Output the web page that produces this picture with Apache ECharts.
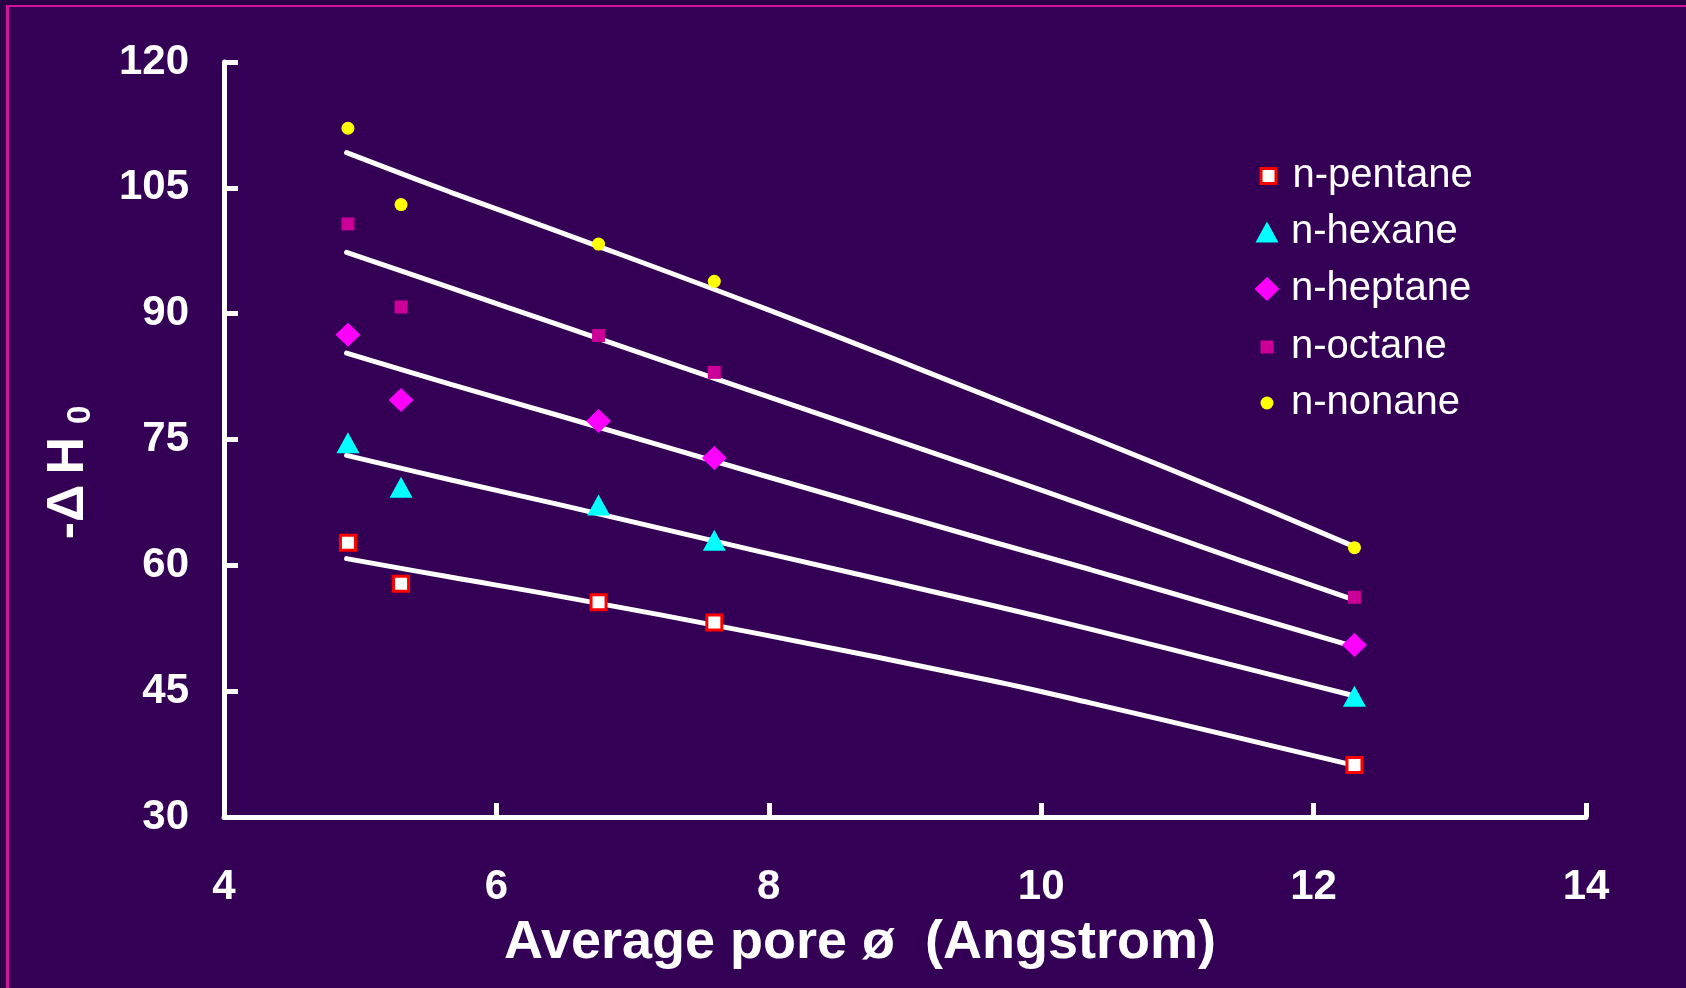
<!DOCTYPE html>
<html>
<head>
<meta charset="utf-8">
<script src="https://cdn.jsdelivr.net/npm/echarts@6/dist/echarts.min.js"></script>
<style>
  html, body { margin: 0; padding: 0; background: #330055; }
  #chart { width: 1686px; height: 988px; }
</style>
</head>
<body>
<div id="chart"></div>
<script>
// Measured adsorption enthalpies (-ΔH0) against average pore diameter
const poreSize = [4.91, 5.3, 6.75, 7.6, 12.3];
const pentane = [62.7, 57.8, 55.6, 53.2, 36.2];
const hexane  = [74.6, 69.3, 67.2, 63.0, 44.4];
const heptane = [87.5, 79.7, 77.2, 72.8, 50.5];
const octane  = [100.7, 90.8, 87.4, 83.0, 56.2];
const nonane  = [112.1, 103.0, 98.3, 93.85, 62.1];

// Trend curves drawn through each alkane series
const fitX        = [4.9, 5.66, 6.47, 7.94, 9.62, 10.36, 11.46, 12.26];
const pentaneFit  = [60.8, 58.6, 56.3, 51.8, 46.3, 43.6, 39.4, 36.3];
const hexaneFit   = [73.1, 70.2, 67.2, 61.6, 55.3, 52.4, 47.9, 44.6];
const heptaneFit  = [85.3, 81.6, 77.8, 70.8, 62.9, 59.5, 54.3, 50.5];
const octaneFit   = [97.3, 93.1, 88.6, 80.4, 71.1, 66.9, 60.6, 56.1];
const nonaneFit   = [109.2, 104.5, 99.7, 90.8, 80.1, 75.3, 68.0, 62.5];

const seriesNames = ['n-pentane', 'n-hexane', 'n-heptane', 'n-octane', 'n-nonane'];
const xTicks = { min: 4, max: 14, step: 2 };
const yTicks = { min: 30, max: 120, step: 15 };

const FONT = '"Liberation Sans", Arial, Helvetica, sans-serif';
const WHITE = '#ffffff';

const markerStyles = {
  'n-pentane': { symbol: 'rect', size: [15, 15], itemStyle: { color: '#ffffff', borderColor: '#ff0000', borderWidth: 3, opacity: 1 } },
  'n-hexane':  { symbol: 'triangle', size: [23, 21], itemStyle: { color: '#00ffff', opacity: 1 } },
  'n-heptane': { symbol: 'diamond', size: [25, 24], itemStyle: { color: '#ff00ff', opacity: 1 } },
  'n-octane':  { symbol: 'rect', size: [13, 13], itemStyle: { color: '#cc0099', opacity: 1 } },
  'n-nonane':  { symbol: 'circle', size: [13, 13], itemStyle: { color: '#ffff00', opacity: 1 } }
};
const legendRows = { 'n-pentane': 176, 'n-hexane': 232, 'n-heptane': 289, 'n-octane': 347, 'n-nonane': 403 };

const measured = [pentane, hexane, heptane, octane, nonane];
const fitted = [pentaneFit, hexaneFit, heptaneFit, octaneFit, nonaneFit];

const pair = (xs, ys) => xs.map((x, i) => [x, ys[i]]);

const series = [];
fitted.forEach((ys, i) => {
  series.push({
    name: seriesNames[i] + ' trend',
    type: 'line',
    data: pair(fitX, ys),
    smooth: 0.4,
    showSymbol: false,
    silent: true,
    z: 2,
    lineStyle: { color: WHITE, width: 5, cap: 'round' }
  });
});
measured.forEach((ys, i) => {
  const name = seriesNames[i];
  const m = markerStyles[name];
  series.push({
    name: name,
    type: 'scatter',
    data: pair(poreSize, ys),
    symbol: m.symbol,
    symbolSize: m.size,
    itemStyle: m.itemStyle,
    emphasis: { disabled: true },
    z: 4
  });
});

// one legend block per entry so every key keeps its own marker size
const iconCenterX = 1267;
const textLeft = 1291;
const legends = seriesNames.map(name => {
  const m = markerStyles[name];
  const w = m.size[0], h = m.size[1];
  const left = iconCenterX - w / 2;
  return {
    left: left,
    top: legendRows[name] - 20,
    padding: 0,
    itemWidth: w,
    itemHeight: h,
    data: [{ name: name, icon: m.symbol, itemStyle: Object.assign({}, m.itemStyle) }],
    textStyle: {
      color: WHITE, fontFamily: FONT, fontSize: 40, lineHeight: 40,
      padding: [0, 0, 0, textLeft - (left + w + 5)]
    }
  };
});

const option = {
  animation: false,
  backgroundColor: '#330055',
  grid: { left: 224, right: 100, top: 62, bottom: 171 },
  legend: legends,
  xAxis: {
    type: 'value',
    min: xTicks.min, max: xTicks.max, interval: xTicks.step,
    name: 'Average pore ø  (Angstrom)',
    nameLocation: 'middle',
    nameGap: 99,
    nameTextStyle: { color: WHITE, fontFamily: FONT, fontSize: 54, fontWeight: 'bold', padding: [0, 90, 0, 0] },
    axisLine: { onZero: false, lineStyle: { color: WHITE, width: 5 } },
    axisTick: { inside: true, length: 14, lineStyle: { color: WHITE, width: 5 } },
    axisLabel: { margin: 49, color: WHITE, fontFamily: FONT, fontSize: 42, fontWeight: 'bold' },
    splitLine: { show: false }
  },
  yAxis: {
    type: 'value',
    min: yTicks.min, max: yTicks.max, interval: yTicks.step,
    name: '{a|-Δ}{b|H}{c|0}',
    nameLocation: 'middle',
    nameGap: 127,
    nameTextStyle: {
      color: WHITE, fontFamily: FONT, fontWeight: 'bold', padding: [0, 66, 0, 0],
      rich: {
        a: { color: WHITE, fontFamily: FONT, fontSize: 52, fontWeight: 'bold', lineHeight: 54, verticalAlign: 'top' },
        b: { color: WHITE, fontFamily: FONT, fontSize: 52, fontWeight: 'bold', lineHeight: 54, verticalAlign: 'top', padding: [0, 0, 0, 10] },
        c: { color: WHITE, fontFamily: FONT, fontSize: 33, fontWeight: 'bold', lineHeight: 34, verticalAlign: 'bottom', padding: [36, 0, 0, 13] }
      }
    },
    axisLine: { onZero: false, lineStyle: { color: WHITE, width: 5 } },
    axisTick: { inside: true, length: 14, lineStyle: { color: WHITE, width: 5 } },
    axisLabel: { margin: 35, color: WHITE, fontFamily: FONT, fontSize: 42, fontWeight: 'bold', padding: [8, 0, 0, 0] },
    splitLine: { show: false }
  },
  graphic: [
    // slide frame: dark outer margin with a magenta rule along the top and left
    { type: 'rect', left: 0, top: 0, shape: { width: 1686, height: 5 }, style: { fill: '#2a0046' }, silent: true },
    { type: 'rect', left: 0, top: 0, shape: { width: 6, height: 988 }, style: { fill: '#2a0046' }, silent: true },
    { type: 'rect', left: 6, top: 5, shape: { width: 1680, height: 2 }, style: { fill: '#d4109c' }, silent: true },
    { type: 'rect', left: 6, top: 5, shape: { width: 3, height: 983 }, style: { fill: '#d4109c' }, silent: true }
  ],
  series: series
};

const chart = echarts.init(document.getElementById('chart'), null, { renderer: 'canvas' });
chart.setOption(option);
</script>
</body>
</html>
